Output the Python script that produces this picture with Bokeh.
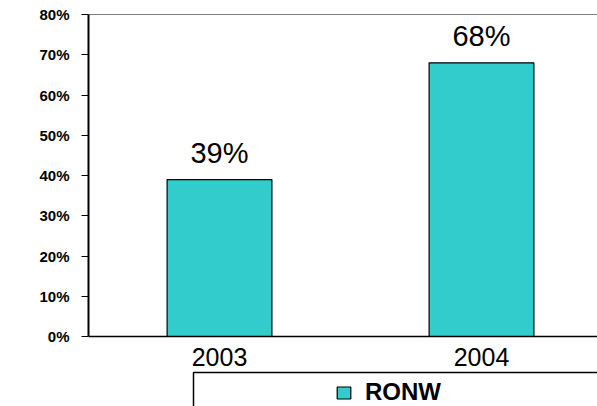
from bokeh.plotting import figure
from bokeh.models import (Range1d, FixedTicker, NumeralTickFormatter, Legend, LegendItem,
                          Span, BoxAnnotation, ColumnDataSource, LabelSet)
from bokeh.core.properties import value
from bokeh.embed import file_html
from bokeh.resources import INLINE

years = ["2003", "2004"]
ronw = [0.39, 0.68]
value_labels = ["39%", "68%"]
y_ticks = [0, 0.1, 0.2, 0.3, 0.4, 0.5, 0.6, 0.7, 0.8]

xpos = [i + 0.5 for i in range(len(years))]
src = ColumnDataSource(dict(x=xpos, top=ronw, lab=value_labels))

p = figure(width=597, height=406, output_backend="svg", toolbar_location=None,
           x_range=Range1d(0, 509 / 262), y_range=Range1d(-70 / 402.5, 0.8),
           min_border_left=88, min_border_right=0, min_border_top=14, min_border_bottom=0)
p.outline_line_color = None
p.grid.visible = False
p.background_fill_color = "white"
p.border_fill_color = "white"

bars = p.vbar(x="x", top="top", width=0.4, bottom=0, source=src,
              fill_color="#33CCCC", line_color="black", line_width=1.2)

labels = LabelSet(x="x", y="top", text="lab", source=src, text_align="center",
                  text_baseline="bottom", y_offset=11, text_font=value("Liberation Sans"),
                  text_font_size="29px", text_color="black")
p.add_layout(labels)

p.add_layout(Span(location=0.8, dimension="width", line_color="black", line_width=1.2))

ya = p.yaxis[0]
ya.bounds = (0, 0.8)
ya.ticker = FixedTicker(ticks=y_ticks)
ya.formatter = NumeralTickFormatter(format="0%")
ya.major_label_text_font = "Liberation Sans"
ya.major_label_text_font_style = "bold"
ya.major_label_text_font_size = "15px"
ya.major_label_text_color = "black"
ya.major_tick_out = 7
ya.major_tick_in = 0
ya.minor_tick_out = 0
ya.minor_tick_in = 0
ya.axis_line_width = 2
ya.axis_line_color = "black"
ya.major_tick_line_color = "black"
ya.major_label_standoff = 12

xa = p.xaxis[0]
xa.fixed_location = 0
xa.ticker = FixedTicker(ticks=xpos)
xa.major_label_overrides = {x: y for x, y in zip(xpos, years)}
xa.major_label_text_font = "Liberation Sans"
xa.major_label_text_font_size = "25px"
xa.major_label_text_color = "black"
xa.major_tick_out = 0
xa.major_tick_in = 0
xa.minor_tick_out = 0
xa.minor_tick_in = 0
xa.axis_line_width = 1.5
xa.axis_line_color = "black"
xa.major_label_standoff = 11

legend = Legend(items=[LegendItem(label="RONW", renderers=[bars])],
                location=(247, 0), border_line_color=None, background_fill_alpha=0,
                label_text_font="Liberation Sans", label_text_font_style="bold",
                label_text_font_size="24px", label_text_color="black",
                glyph_width=17, glyph_height=15,
                label_standoff=13, padding=4, margin=0)
p.add_layout(legend)

p.add_layout(BoxAnnotation(left=193 - 88, right=800, top=406 - 372, bottom=-50,
                           left_units="screen", right_units="screen",
                           top_units="screen", bottom_units="screen",
                           fill_alpha=0, line_color="black", line_alpha=1, line_width=1.5))

open("out.html", "w").write(file_html(p, INLINE))
